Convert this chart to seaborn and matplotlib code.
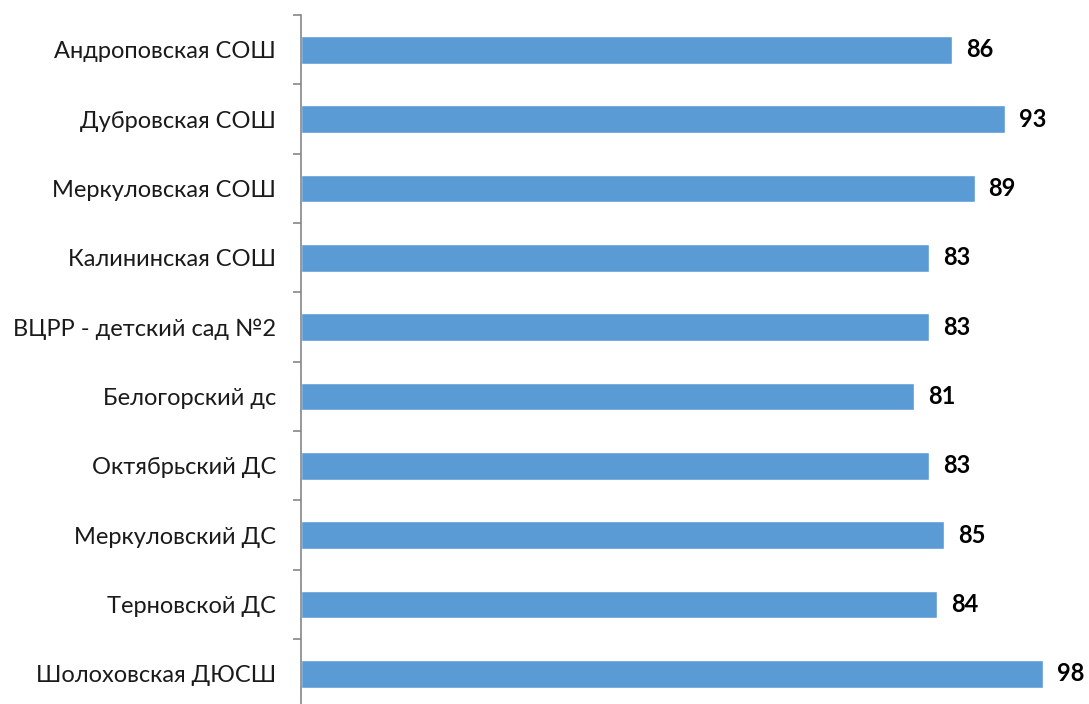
import matplotlib
matplotlib.use("Agg")
import matplotlib.pyplot as plt
import seaborn as sns
import pandas as pd

# data
schools = [
    "Андроповская СОШ",
    "Дубровская СОШ",
    "Меркуловская СОШ",
    "Калининская СОШ",
    "ВЦРР - детский сад №2",
    "Белогорский дс",
    "Октябрьский ДС",
    "Меркуловский ДС",
    "Терновской ДС",
    "Шолоховская ДЮСШ",
]
scores = [86, 93, 89, 83, 83, 81, 83, 85, 84, 98]

df = pd.DataFrame({"school": schools, "score": scores})

sns.set_style("white")
plt.rcParams["font.family"] = ["Lato", "DejaVu Sans"]

W, H = 1089, 704
fig = plt.figure(figsize=(W / 100, H / 100), dpi=100)
# axes: left edge at x=301, top at y=15, bottom just below the picture
left, right = 301 / W, 1058 / W
top, bottom = 1 - 15 / H, -4.5 / H
ax = fig.add_axes([left, bottom, right - left, top - bottom])

sns.barplot(data=df, x="score", y="school", orient="h", color="#5B9BD5",
            width=0.4, saturation=1, ax=ax)

ax.set_xlim(0, 100)
ax.set_ylim(len(schools) - 0.5, -0.5)
ax.set_xlabel("")
ax.set_ylabel("")
ax.set_xticks([])

# tick marks between categories, labels at centres
ax.set_yticks(list(range(len(schools))))
ax.set_yticklabels(schools, fontsize=17, color="#1a1a1a")
ax.tick_params(axis="y", which="major", left=True, length=0, pad=18)
ax.set_yticks([i - 0.5 for i in range(len(schools) + 1)], minor=True)
ax.tick_params(axis="y", which="minor", left=True, length=6, width=1.2,
               color="#868686", direction="out")

for s in ["top", "right", "bottom"]:
    ax.spines[s].set_visible(False)
ax.spines["left"].set_color("#868686")
ax.spines["left"].set_linewidth(1.2)

for c in ax.containers:
    ax.bar_label(c, labels=[str(v) for v in scores], padding=10,
                 fontsize=17, fontweight="bold", color="#000000")

fig.savefig("out.png", dpi=100)
